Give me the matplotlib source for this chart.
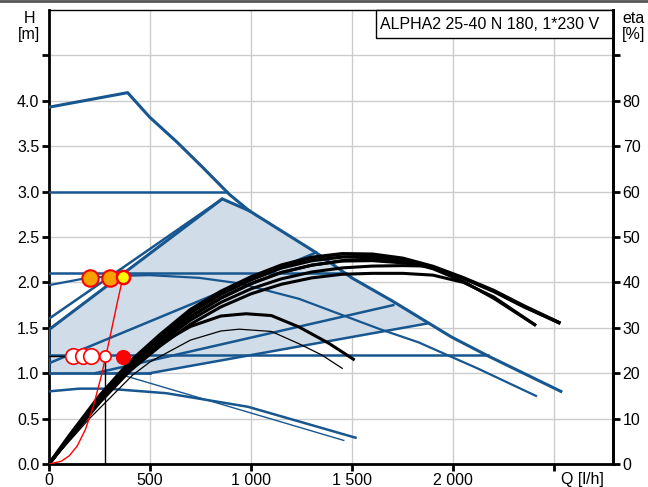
import numpy as np
import matplotlib.pyplot as plt
from matplotlib.patches import Rectangle

# pump curves, flow in l/h, head in m
q_max = [0, 389, 498, 631, 759, 892, 990, 1320, 1498, 1695, 1990, 2172, 2532]
h_max = [3.93, 4.09, 3.82, 3.55, 3.27, 2.97, 2.79, 2.33, 2.05, 1.80, 1.40, 1.19, 0.80]

q_speed2 = [0, 167, 300, 498, 744, 941, 1236, 1631, 1828, 2123, 2409]
h_speed2 = [1.97, 2.04, 2.07, 2.08, 2.05, 1.99, 1.82, 1.49, 1.34, 1.05, 0.75]

q_speed1 = [0, 150, 290, 580, 985, 1516]
h_speed1 = [0.80, 0.83, 0.83, 0.78, 0.63, 0.29]

q_thin = [333, 1458]
h_thin = [1.00, 0.26]

# constant pressure lines: (head, end flow)
cp_heads = [3.0, 2.1, 1.2]
cp_ends = [880, 1467, 2172]

# proportional pressure lines
pp_q = [[0, 857], [0, 1322], [228, 1703], [498, 1877]]
pp_h = [[1.60, 2.92], [1.11, 2.33], [1.00, 1.75], [1.00, 1.55]]

# autoadapt area outline
area_q = [0, 0, 857, 990, 1320, 1498, 1695, 1877, 498, 0]
area_h = [1.00, 1.48, 2.92, 2.79, 2.33, 2.05, 1.80, 1.55, 1.00, 1.00]

# efficiency curves, eta in %
eta_q = [
    [0, 100, 250, 400, 550, 700, 850, 1000, 1150, 1300, 1450, 1600, 1750, 1900, 2050, 2200, 2350, 2530],
    [0, 100, 250, 400, 550, 700, 850, 1000, 1150, 1300, 1450, 1600, 1750, 1900, 2050, 2200, 2350, 2530],
    [0, 100, 250, 400, 550, 700, 850, 1000, 1150, 1300, 1450, 1600, 1750, 1880],
    [0, 100, 250, 400, 550, 700, 850, 1000, 1150, 1300, 1450, 1600, 1750, 1880],
    [0, 100, 250, 400, 550, 700, 850, 1000, 1150, 1300, 1450, 1600, 1750, 1900, 2050, 2200, 2409],
    [0, 100, 250, 400, 550, 700, 850, 1000, 1150, 1300, 1450, 1600, 1750, 1900, 2050, 2200, 2409],
    [0, 100, 250, 400, 550, 700, 850, 975, 1100, 1236, 1384, 1512],
    [0, 100, 200, 414, 500, 700, 850, 941, 1100, 1236, 1350, 1453],
]
eta_v = [
    [0, 6.2, 15, 22.5, 28.5, 34, 38, 41.2, 43.8, 45.5, 46.3, 46.2, 45.3, 43.5, 41, 38.2, 34.8, 31],
    [0, 6, 14.6, 22, 28, 33.3, 37.4, 40.6, 43.2, 44.8, 45.6, 45.7, 45, 43.3, 40.9, 38, 34.6, 31],
    [0, 5.8, 14.2, 21.5, 27.3, 32.5, 36.6, 39.8, 42.2, 43.8, 44.7, 44.8, 44.3, 43.7],
    [0, 5.6, 13.8, 21, 26.7, 31.7, 35.6, 38.6, 40.8, 42.3, 43.2, 43.6, 43.7, 43.6],
    [0, 5.5, 13.5, 20.5, 26, 30.8, 34.6, 37.5, 39.6, 41, 41.8, 42, 42, 41.6, 40, 36.8, 30.5],
    [0, 5.7, 14, 21.3, 27.2, 32.4, 36.5, 39.7, 42.2, 43.8, 44.8, 45.2, 44.8, 43, 40.2, 36.5, 30.5],
    [0, 5.6, 14.3, 21, 26.5, 30.3, 32.6, 33.1, 32.7, 30.2, 26.6, 22.9],
    [0, 5, 10, 19.6, 22.5, 27.3, 29.3, 29.7, 29.2, 26.5, 24, 21],
]
eta_lw = [2.6, 2.4, 2.2, 2.2, 2.2, 2.2, 2.2, 0.9]

# system curve and duty points
sys_q = [0, 60, 100, 140, 180, 220, 260, 300, 340, 366]
sys_h = [0, 0.03, 0.09, 0.20, 0.38, 0.64, 0.98, 1.38, 1.80, 2.06]
duty_q, duty_h = 279, 1.19
orange_q = [202, 300]
orange_h = [2.05, 2.05]
yellow_q, yellow_h = 366, 2.06
white_q = [120, 166, 210]
white_h = [1.19, 1.19, 1.19]
red_q, red_h = 366, 1.18

x_ticks = [0, 500, 1000, 1500, 2000, 2500]
x_labels = ['0', '500', '1 000', '1 500', '2 000', '']
y_ticks = [0, 0.5, 1.0, 1.5, 2.0, 2.5, 3.0, 3.5, 4.0, 4.5]
y_labels = ['0.0', '0.5', '1.0', '1.5', '2.0', '2.5', '3.0', '3.5', '4.0', '']
eta_ticks = [0, 10, 20, 30, 40, 50, 60, 70, 80, 90]
eta_labels = ['0', '10', '20', '30', '40', '50', '60', '70', '80', '']

blue = '#17568f'
shade = '#d0dce7'
fs = 11.5

plt.rcParams['font.family'] = ['Liberation Sans', 'DejaVu Sans']
fig = plt.figure(figsize=(6.48, 4.87), dpi=100)
ax = fig.add_axes([0.0756, 0.0472, 0.8704, 0.9322])
ax.set_xlim(0, 2790)
ax.set_ylim(0, 5.0)

ax.fill(area_q, area_h, color=shade, lw=0, zorder=1)

ax.plot(q_max, h_max, color=blue, lw=2.2, zorder=3)
ax.plot(q_speed2, h_speed2, color=blue, lw=1.6, zorder=3)
ax.plot(q_speed1, h_speed1, color=blue, lw=1.8, zorder=3)
ax.plot(q_thin, h_thin, color=blue, lw=1.0, zorder=3)
for h, qe in zip(cp_heads, cp_ends):
    ax.plot([0, qe], [h, h], color=blue, lw=1.8, zorder=3)
for qs, hs in zip(pp_q, pp_h):
    ax.plot(qs, hs, color=blue, lw=1.8, zorder=3)
ax.plot(area_q[:4], area_h[:4], color=blue, lw=2.2, zorder=3)
ax.plot([0, 498], [1.0, 1.0], color=blue, lw=2.0, zorder=3)

# efficiency on the right axis, drawn in head units (eta / 20)
for qs, es, lw in zip(eta_q, eta_v, eta_lw):
    ax.plot(qs, np.array(es) / 20.0, color='black', lw=lw, zorder=4,
            solid_capstyle='butt', solid_joinstyle='round')

ax.plot(sys_q, sys_h, color='red', lw=1.0, zorder=5)
ax.plot([0, duty_q, duty_q], [duty_h, duty_h, 0], color='black', lw=1.0, zorder=5)
ax.scatter(white_q, white_h, s=125, facecolor='white', edgecolor='red', lw=1.2, zorder=6)
ax.scatter([duty_q], [duty_h], s=65, facecolor='white', edgecolor='red', lw=1.2, zorder=6)
ax.scatter([red_q], [red_h], s=95, facecolor='red', edgecolor='red', lw=1.2, zorder=6)
ax.scatter(orange_q, orange_h, s=140, facecolor='#f7a000', edgecolor='red', lw=1.5, zorder=6)
ax.scatter([yellow_q], [yellow_h], s=90, facecolor='#ffff00', edgecolor='red', lw=1.8, zorder=6)

ax.set_xticks(x_ticks)
ax.set_xticklabels(x_labels)
ax.set_yticks(y_ticks)
ax.set_yticklabels(y_labels)
ax.grid(True, color='#cccccc', lw=1.0, zorder=0)
ax.set_axisbelow(True)
ax.tick_params(direction='out', length=5, width=2, labelsize=fs, colors='black')
ax.tick_params(axis='x', pad=1.5)
ax.tick_params(axis='y', pad=2)
for side in ['left', 'bottom', 'right']:
    ax.spines[side].set_linewidth(2)
ax.spines['top'].set_linewidth(1)

ax2 = ax.twinx()
ax2.set_ylim(0, 100)
ax2.set_yticks(eta_ticks)
ax2.set_yticklabels(eta_labels)
ax2.tick_params(direction='out', length=5, width=2, labelsize=fs, pad=2)
ax2.spines['right'].set_linewidth(2)
for side in ['left', 'bottom', 'top']:
    ax2.spines[side].set_visible(False)

fig.text(0.045, 0.963, 'H', ha='center', va='center', fontsize=fs)
fig.text(0.045, 0.93, '[m]', ha='center', va='center', fontsize=fs)
fig.text(0.978, 0.963, 'eta', ha='center', va='center', fontsize=fs)
fig.text(0.978, 0.93, '[%]', ha='center', va='center', fontsize=fs)
ax.annotate('Q [l/h]', xy=(2640, 0), xytext=(0, -5.5), textcoords='offset points',
            ha='center', va='top', fontsize=fs, annotation_clip=False)

# title box in the top right corner of the plot
ax.add_patch(Rectangle((0.58, 0.938), 0.42, 0.062, transform=ax.transAxes,
                       fc='white', ec='black', lw=1, zorder=7, clip_on=False))
ax.text(0.587, 0.969, 'ALPHA2 25-40 N 180, 1*230 V', transform=ax.transAxes,
        ha='left', va='center', fontsize=fs, zorder=8)
fig.add_artist(plt.Line2D([0, 1], [0.997, 0.997], color='#555555', lw=2))

fig.savefig('out.png', dpi=100)
